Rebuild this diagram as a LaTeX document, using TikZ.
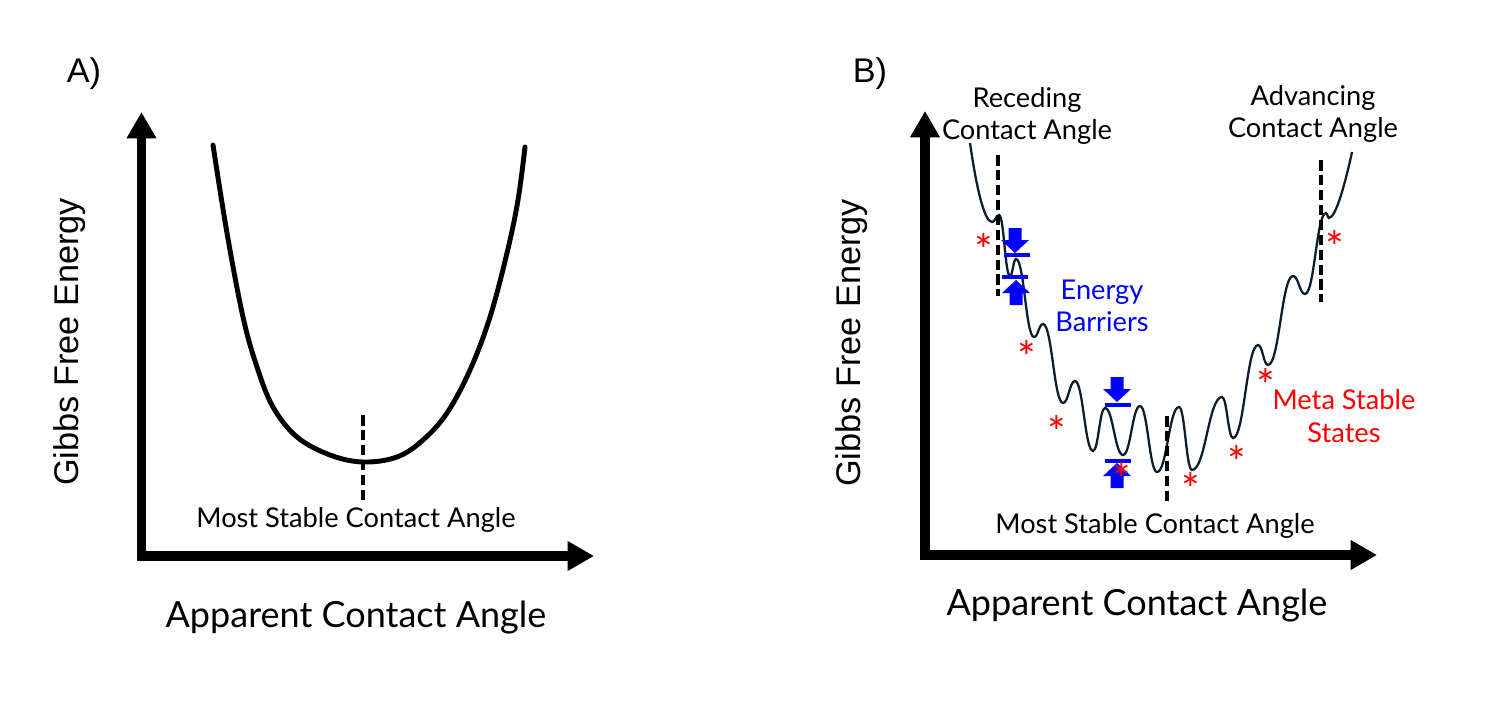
\documentclass[tikz,border=0pt]{standalone}
\usepackage{fontspec}
\setmainfont{Lato}
\newfontfamily\arialfont{Liberation Sans}
\usetikzlibrary{arrows.meta}
\definecolor{barrierblue}{RGB}{0, 0, 255}
\definecolor{metared}{RGB}{255, 0, 0}
\definecolor{waveink}{RGB}{12, 30, 45}

\begin{document}
\begin{tikzpicture}[x=0.02cm, y=-0.02cm,
  axis/.style={line width=5.4pt, line join=miter,
    {Triangle[length=15pt, width=16pt]}-{Triangle[length=15pt, width=16pt]}},
  marker/.style={line width=2.3pt, dash pattern=on 6pt off 2.5pt},
  axlabel/.style={font=\fontsize{20.5}{24}\selectfont, inner sep=0pt},
  ylabel/.style={font=\arialfont\fontsize{19.5}{23}\selectfont, rotate=90, inner sep=0pt},
  lbl/.style={font=\fontsize{15.5}{18.3}\selectfont, inner sep=0pt, align=center},
  metastar/.style={font=\fontsize{25}{27}\selectfont, metared, inner sep=0pt, anchor=base},
  barrier bar/.style={barrierblue, line width=1.8pt}]
  \useasboundingbox (0, 0) rectangle (1500, 700);

  % A) smooth well
  \coordinate (oA) at (141.5, 556);
  \coordinate (yA) at (141.5, 112);
  \coordinate (xA) at (594, 556);
  \draw[axis] (yA) -- (oA) -- (xA);
  \node[font=\arialfont\fontsize{19.5}{23}\selectfont, inner sep=0pt] (panA) at (84, 74) {A)};
  \node[ylabel] (ylabA) at (70, 342) {Gibbs Free Energy};
  \node[axlabel, anchor=base] (xlabA) at (356, 627) {Apparent Contact Angle};
  \draw[line width=2.8pt, line cap=round] plot[smooth, tension=0.6] coordinates {
    (213, 145) (227, 233) (243, 317) (257, 367) (273, 407) (297, 437) (330, 455)
    (363, 462) (397, 457) (423, 440) (447, 413) (470, 370) (490, 317) (507, 253)
    (518, 200) (525, 147)};
  \draw[marker] (363, 415) -- (363, 503);
  \node[lbl, anchor=base] (stableA) at (356, 527) {Most Stable Contact Angle};

  % B) rough well
  \coordinate (oB) at (925, 555);
  \coordinate (yB) at (925, 111);
  \coordinate (xB) at (1377, 555);
  \draw[axis] (yB) -- (oB) -- (xB);
  \node[font=\arialfont\fontsize{19.5}{23}\selectfont, inner sep=0pt] (panB) at (870, 74) {B)};
  \node[ylabel] (ylabB) at (852, 343) {Gibbs Free Energy};
  \node[axlabel, anchor=base] (xlabB) at (1137, 615) {Apparent Contact Angle};

  \draw[waveink, line width=1.3pt] (970, 143) .. controls (976, 185) and (984, 222) .. (992, 222)
    \foreach \x/\y [remember=\x as \px (initially 992), remember=\y as \py (initially 222)] in
      {999/215, 1010/276, 1016/259, 1034/337, 1043/324, 1063/403, 1075/381, 1093/451,
       1105/408, 1123/455, 1140/406, 1157/472, 1179/407, 1192/470, 1222/397, 1233/438,
       1258/345, 1268/365, 1293/276, 1305/294, 1326/213, 1329/218}
      { .. controls ({\px+0.45*(\x-\px)}, \py) and ({\x-0.45*(\x-\px)}, \y) .. (\x, \y) }
    .. controls (1336, 218) and (1346, 180) .. (1352, 152);

  \draw[marker] (998, 155) -- (998, 296);
  \draw[marker] (1321, 160) -- (1321, 302);
  \draw[marker] (1167, 416) -- (1167, 503);

  \foreach \cx/\ty/\s in {1015/253/1, 1016/280/-1, 1117/402/1, 1117/463/-1}
    \fill[barrierblue] (\cx, \ty) -- (\cx-14, {\ty-13*\s}) -- (\cx-6.5, {\ty-13*\s})
      -- (\cx-6.5, {\ty-25*\s}) -- (\cx+6.5, {\ty-25*\s}) -- (\cx+6.5, {\ty-13*\s})
      -- (\cx+14, {\ty-13*\s}) -- cycle;
  \foreach \cx/\by in {1017/255, 1015/277, 1118/405, 1118/461}
    \draw[barrier bar] (\cx-13, \by) -- (\cx+13, \by);

  \foreach \sx/\sy [count=\i] in {984/240, 1027/347, 1057/422, 1122/469, 1191/479,
      1237/452, 1266/375, 1335/237}
    \node[metastar] (star\i) at (\sx, \sy) {\smash{\raisebox{-0.6em}{*}}};

  \node[lbl] (rec) at (1027, 116) {Receding\\Contact Angle};
  \node[lbl] (adv) at (1313, 114) {Advancing\\Contact Angle};
  \node[lbl, barrierblue] (barr) at (1102, 306) {Energy\\Barriers};
  \node[lbl, metared] (meta) at (1344, 416) {Meta Stable\\States};
  \node[lbl, anchor=base] (stableB) at (1155, 533) {Most Stable Contact Angle};
\end{tikzpicture}
\end{document}
